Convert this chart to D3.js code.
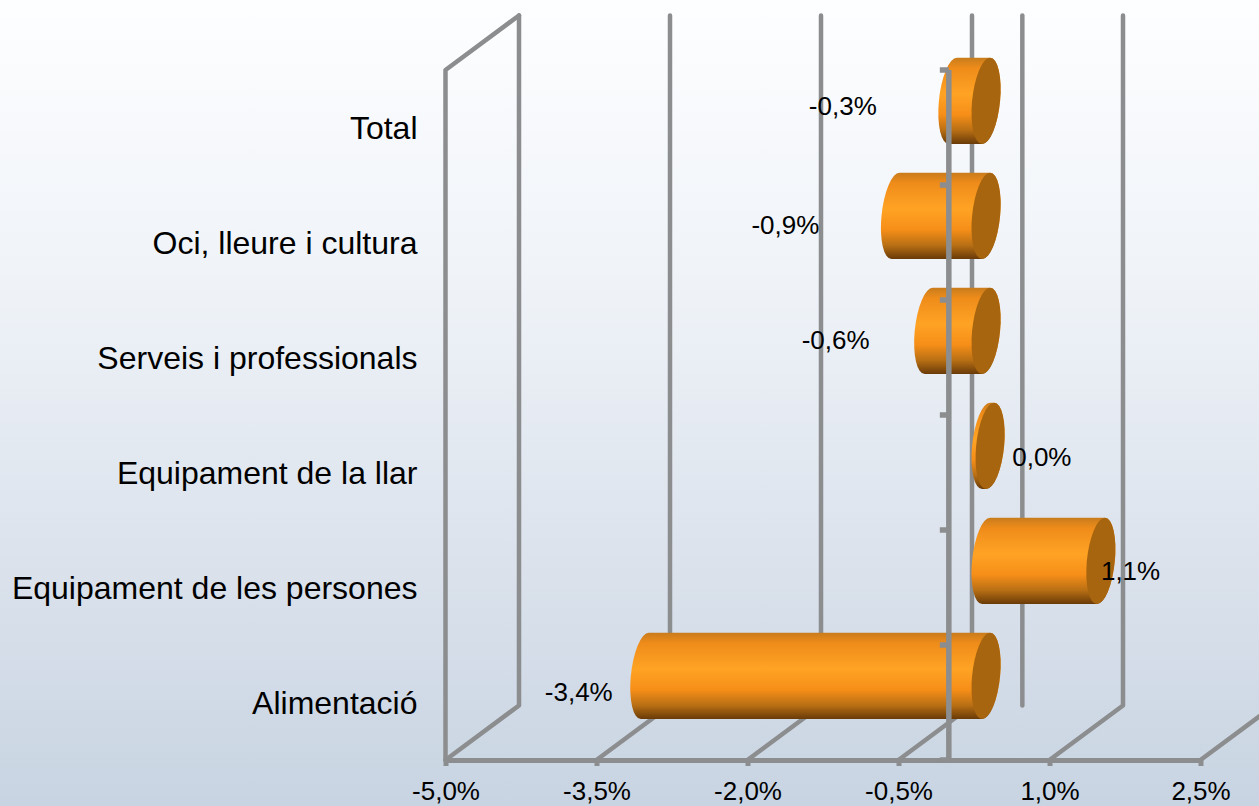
<!DOCTYPE html>
<html><head><meta charset="utf-8">
<script src="https://cdnjs.cloudflare.com/ajax/libs/d3/7.8.5/d3.min.js"></script>
<style>html,body{margin:0;padding:0;overflow:hidden}svg{display:block}text{font-family:"Liberation Sans",Arial,sans-serif;fill:#000}</style>
</head><body><script>
const categories=["Total","Oci, lleure i cultura","Serveis i professionals","Equipament de la llar","Equipament de les persones","Alimentació"];
const values=[-0.33,-0.9,-0.57,0.04,1.14,-3.39];
const xTicks=[-5,-3.5,-2,-0.5,1,2.5];

// layout
const W=1259,H=806;
const depthX=73.5,depthY=-54.5,GREY="#8c8d8e";
const barDX=depthX/2+0.5,barDY=depthY/2+0.7;
const labelNudge=[[-62,6],[-62,10],[-45,10],[9,12],[-13,11],[-18,17]];
const x=d3.scaleLinear().domain([-5,2.5]).range([445.5,1200.5]);
const y=d3.scaleBand().domain(categories).range([70,760]);
const fmt=v=>v.toFixed(1).replace(".",",")+"%";

const svg=d3.select("body").append("svg").attr("width",W).attr("height",H);
const defs=svg.append("defs");
const bg=defs.append("linearGradient").attr("id","bg").attr("x1",0).attr("y1",0).attr("x2",0).attr("y2",1);
[[0,"#fdfeff"],[0.35,"#eff3f8"],[0.7,"#dbe2ec"],[1,"#c8d4e2"]].forEach(s=>bg.append("stop").attr("offset",s[0]).attr("stop-color",s[1]));
const side=defs.append("linearGradient").attr("id","side").attr("x1",0).attr("y1",0).attr("x2",0).attr("y2",1);
[[0,"#c97c1c"],[0.12,"#ef8c1a"],[0.42,"#ffa324"],[0.66,"#f68e18"],[0.84,"#b86f14"],[1,"#693a08"]].forEach(s=>side.append("stop").attr("offset",s[0]).attr("stop-color",s[1]));
svg.append("rect").attr("width",W).attr("height",H).attr("fill","url(#bg)");

const grid=svg.append("g").attr("fill","none").attr("stroke",GREY).attr("stroke-width",4.5).attr("stroke-linecap","round").attr("stroke-linejoin","round");
const yTop=y.range()[0],yBot=y.range()[1];
// back wall verticals + floor diagonals
grid.selectAll("path.v").data(xTicks).join("path").attr("class","v")
 .attr("d",t=>`M${x(t)+depthX},${yTop+depthY}V${yBot+depthY}L${x(t)},${yBot}`);
// left wall
grid.append("path").attr("d",`M${x(-5)},${yBot}V${yTop}L${x(-5)+depthX},${yTop+depthY}`);
// back zero line
grid.append("path").attr("d",`M${x(0)+depthX},${yTop+depthY}V${yBot+depthY}`);

// x axis
const xAxis=svg.append("g").attr("transform",`translate(0,${yBot})`)
 .call(d3.axisBottom(x).tickValues(xTicks).tickFormat(fmt).tickSize(6).tickPadding(16).tickSizeOuter(0));
xAxis.select(".domain").attr("stroke",GREY).attr("stroke-width",5);
xAxis.selectAll(".tick line").attr("stroke",GREY).attr("stroke-width",5);
xAxis.selectAll("text").attr("font-size",26).attr("fill","#000").attr("font-family",'"Liberation Sans",Arial,sans-serif');

// category axis (labels only)
const yAxis=svg.append("g").attr("transform",`translate(${x(-5)},1.5)`)
 .call(d3.axisLeft(y).tickSize(0).tickPadding(28));
yAxis.select(".domain").remove();
yAxis.selectAll("text").attr("font-size",32).attr("fill","#000").attr("font-family",'"Liberation Sans",Arial,sans-serif');

// cylinders
const ry=y.bandwidth()*0.375,rx=14,skew=-Math.atan(4/43)*180/Math.PI;
const zero=x(0)+barDX;
const g=svg.selectAll("g.bar").data(values).join("g").attr("class","bar")
 .attr("transform",(v,i)=>`translate(0,${y(categories[i])+y.bandwidth()/2+barDY}) skewX(${skew})`);
g.append("path").attr("fill","url(#side)")
 .attr("d",v=>{const a=Math.min(zero,x(v)+barDX),b=Math.max(zero,x(v)+barDX);
  return `M${a},${-ry}A${rx},${ry} 0 0 0 ${a},${ry}L${b},${ry}A${rx},${ry} 0 0 0 ${b},${-ry}Z`;});
g.append("ellipse").attr("fill","#a8650f").attr("ry",ry).attr("rx",rx)
 .attr("cx",v=>Math.max(zero,x(v)+barDX)).attr("cy",0);

// front zero axis with ticks, in front of the bars
const front=svg.append("g").attr("stroke",GREY).attr("fill","none");
front.append("line").attr("x1",x(0)).attr("x2",x(0)).attr("y1",yTop).attr("y2",yBot).attr("stroke-width",5.5);
const yTicks=categories.map(c=>y(c)).concat(yBot);
front.selectAll("line.t").data(yTicks).join("line").attr("class","t")
 .attr("x1",x(0)-9).attr("x2",x(0)).attr("y1",d=>d).attr("y2",d=>d).attr("stroke-width",5.5);

// data labels
svg.selectAll("text.lab").data(values).join("text").attr("class","lab")
 .attr("font-size",26).attr("dominant-baseline","central")
 .attr("text-anchor",v=>v<0?"end":"start")
 .attr("x",(v,i)=>(v<0?x(v)+depthX/2-13.6:x(v)+depthX/2+13.6)+labelNudge[i][0])
 .attr("y",(v,i)=>y(categories[i])+y.bandwidth()/2+depthY/2+labelNudge[i][1])
 .text(fmt);
</script></body></html>
